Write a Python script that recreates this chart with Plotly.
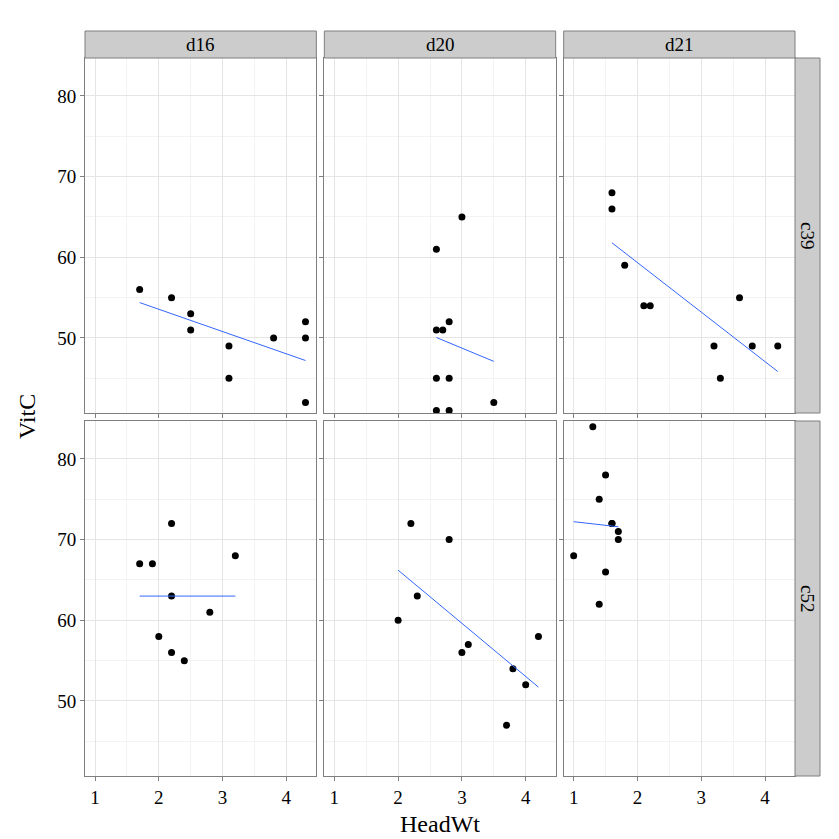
import numpy as np
import plotly.graph_objects as go
from plotly.subplots import make_subplots

dates = ["d16", "d20", "d21"]
cults = ["c39", "c52"]

head_wt = {
    ("c39", "d16"): [2.5, 2.2, 3.1, 4.3, 2.5, 4.3, 3.8, 4.3, 1.7, 3.1],
    ("c39", "d20"): [3.0, 2.8, 2.6, 2.7, 2.6, 2.8, 2.6, 2.6, 2.8, 3.5],
    ("c39", "d21"): [1.6, 1.6, 1.8, 2.1, 2.2, 3.2, 3.3, 3.6, 3.8, 4.2],
    ("c52", "d16"): [1.7, 1.9, 2.2, 2.2, 2.0, 2.2, 2.4, 2.8, 3.2],
    ("c52", "d20"): [2.0, 2.2, 2.3, 2.8, 3.0, 3.1, 3.7, 3.8, 4.0, 4.2],
    ("c52", "d21"): [1.0, 1.3, 1.4, 1.4, 1.5, 1.5, 1.6, 1.7, 1.7, 1.6],
}
vit_c = {
    ("c39", "d16"): [51, 55, 45, 42, 53, 50, 50, 52, 56, 49],
    ("c39", "d20"): [65, 52, 41, 51, 61, 45, 51, 45, 41, 42],
    ("c39", "d21"): [68, 66, 59, 54, 54, 49, 45, 55, 49, 49],
    ("c52", "d16"): [67, 67, 72, 63, 58, 56, 55, 61, 68],
    ("c52", "d20"): [60, 72, 63, 70, 56, 57, 47, 54, 52, 58],
    ("c52", "d21"): [68, 84, 75, 62, 78, 66, 72, 71, 70, 72],
}

FONT = "Liberation Serif"
W, H = 839, 839
ml, mr, mt, mb = 77, 52, 50, 71
pw, ph = W - ml - mr, H - mt - mb

fig = make_subplots(rows=2, cols=3, shared_xaxes=True, shared_yaxes=True,
                    horizontal_spacing=8 / pw, vertical_spacing=8 / ph)

for r, cu in enumerate(cults, start=1):
    for c, d in enumerate(dates, start=1):
        x = np.array(head_wt[(cu, d)])
        y = np.array(vit_c[(cu, d)])
        fig.add_trace(go.Scatter(x=x, y=y, mode="markers",
                                 marker=dict(color="black", size=7),
                                 showlegend=False), row=r, col=c)
        k, b = np.polyfit(x, y, 1)
        xs = np.array([x.min(), x.max()])
        fig.add_trace(go.Scatter(x=xs, y=k * xs + b, mode="lines",
                                 line=dict(color="#3366FF", width=1),
                                 showlegend=False), row=r, col=c)

axis_common = dict(showline=True, mirror=True, linecolor="#7f7f7f", linewidth=1,
                   gridcolor="#e5e5e5", zeroline=False, automargin=False,
                   tickfont=dict(family=FONT, size=19, color="black"),
                   ticks="outside", tickcolor="#7f7f7f", ticklen=4)
fig.update_xaxes(range=[0.843, 4.47], tickvals=[1, 2, 3, 4],
                 minor=dict(tickvals=[1.5, 2.5, 3.5], showgrid=True, gridcolor="#f3f3f3", ticks=""),
                 **axis_common)
fig.update_yaxes(range=[40.7, 84.7], tickvals=[50, 60, 70, 80],
                 minor=dict(tickvals=[45, 55, 65, 75], showgrid=True, gridcolor="#f3f3f3", ticks=""),
                 **axis_common)
fig.add_annotation(text="HeadWt", x=0.5, y=-48 / ph, xref="paper", yref="paper",
                   xanchor="center", yanchor="middle", showarrow=False,
                   font=dict(family=FONT, size=24, color="black"))
fig.add_annotation(text="VitC", x=-58 / pw, y=0.5, xref="paper", yref="paper",
                   xanchor="center", yanchor="middle", textangle=-90, showarrow=False,
                   font=dict(family=FONT, size=24, color="black"))

gx = 8 / pw
cw = (1 - 2 * gx) / 3
gy = 8 / ph
rh = (1 - gy) / 2
for i, d in enumerate(dates):
    x0 = i * (cw + gx)
    fig.add_shape(type="rect", xref="paper", yref="paper", x0=x0, x1=x0 + cw,
                  y0=1, y1=1 + 27 / ph, fillcolor="#cccccc", line=dict(color="#7f7f7f", width=1))
    fig.add_annotation(text=d, xref="paper", yref="paper", x=x0 + cw / 2, y=1 + 13.5 / ph,
                       xanchor="center", yanchor="middle", showarrow=False,
                       font=dict(family=FONT, size=19, color="black"))
for j, cu in enumerate(cults):
    y1 = 1 - j * (rh + gy)
    fig.add_shape(type="rect", xref="paper", yref="paper", x0=1, x1=1 + 25 / pw,
                  y0=y1 - rh, y1=y1, fillcolor="#cccccc", line=dict(color="#7f7f7f", width=1))
    fig.add_annotation(text=cu, xref="paper", yref="paper", x=1 + 12.5 / pw, y=y1 - rh / 2,
                       xanchor="center", yanchor="middle", textangle=90, showarrow=False,
                       font=dict(family=FONT, size=19, color="black"))

fig.update_layout(width=W, height=H, plot_bgcolor="white", paper_bgcolor="white",
                  margin=dict(l=ml, r=mr, t=mt, b=mb), font=dict(family=FONT))
fig.write_html("out.html")
